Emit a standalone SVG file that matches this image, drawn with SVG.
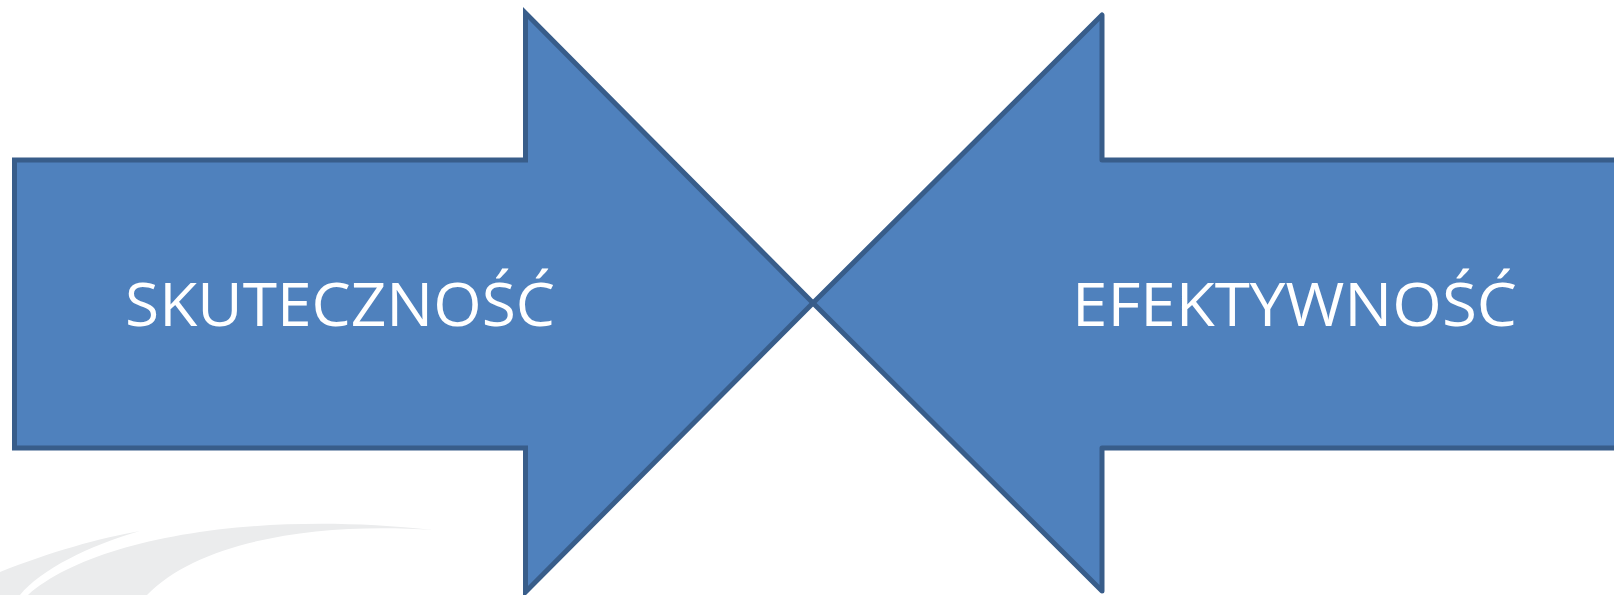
<svg xmlns="http://www.w3.org/2000/svg" width="1614" height="595" viewBox="0 0 1614 595">
<style>
.arrow{fill:#4F81BD;stroke:#385D8A;stroke-width:5}
.lbl{font-family:"Open Sans","Liberation Sans",sans-serif;font-size:60px;fill:#FFFFFF}
.swoosh{fill:#EBECED}
</style>
<rect width="1614" height="595" fill="#FFFFFF"/>
<g id="background">
<path class="swoosh" d="M0 572 C50 552 100 538 140 531 C90 545 40 570 20 595 L0 595 Z"/>
<path class="swoosh" d="M28 595 C90 540 250 510 433 530 C320 522 200 540 147 595 Z"/>
</g>
<g id="node-skutecznosc">
<polygon class="arrow" stroke-linejoin="miter" points="14.5,160 525.5,160 525.5,13 813,303 525.5,592 525.5,448 14.5,448"/>
<text class="lbl" x="125" y="326" textLength="430" lengthAdjust="spacingAndGlyphs">SKUTECZNOŚĆ</text>
</g>
<g id="node-efektywnosc">
<polygon class="arrow" stroke-linejoin="round" points="813,303 1102,15 1102,160 1620,160 1620,448 1102,448 1102,591"/>
<text class="lbl" x="1072" y="326" textLength="445" lengthAdjust="spacingAndGlyphs">EFEKTYWNOŚĆ</text>
</g>
<g id="connectors"/>
</svg>
